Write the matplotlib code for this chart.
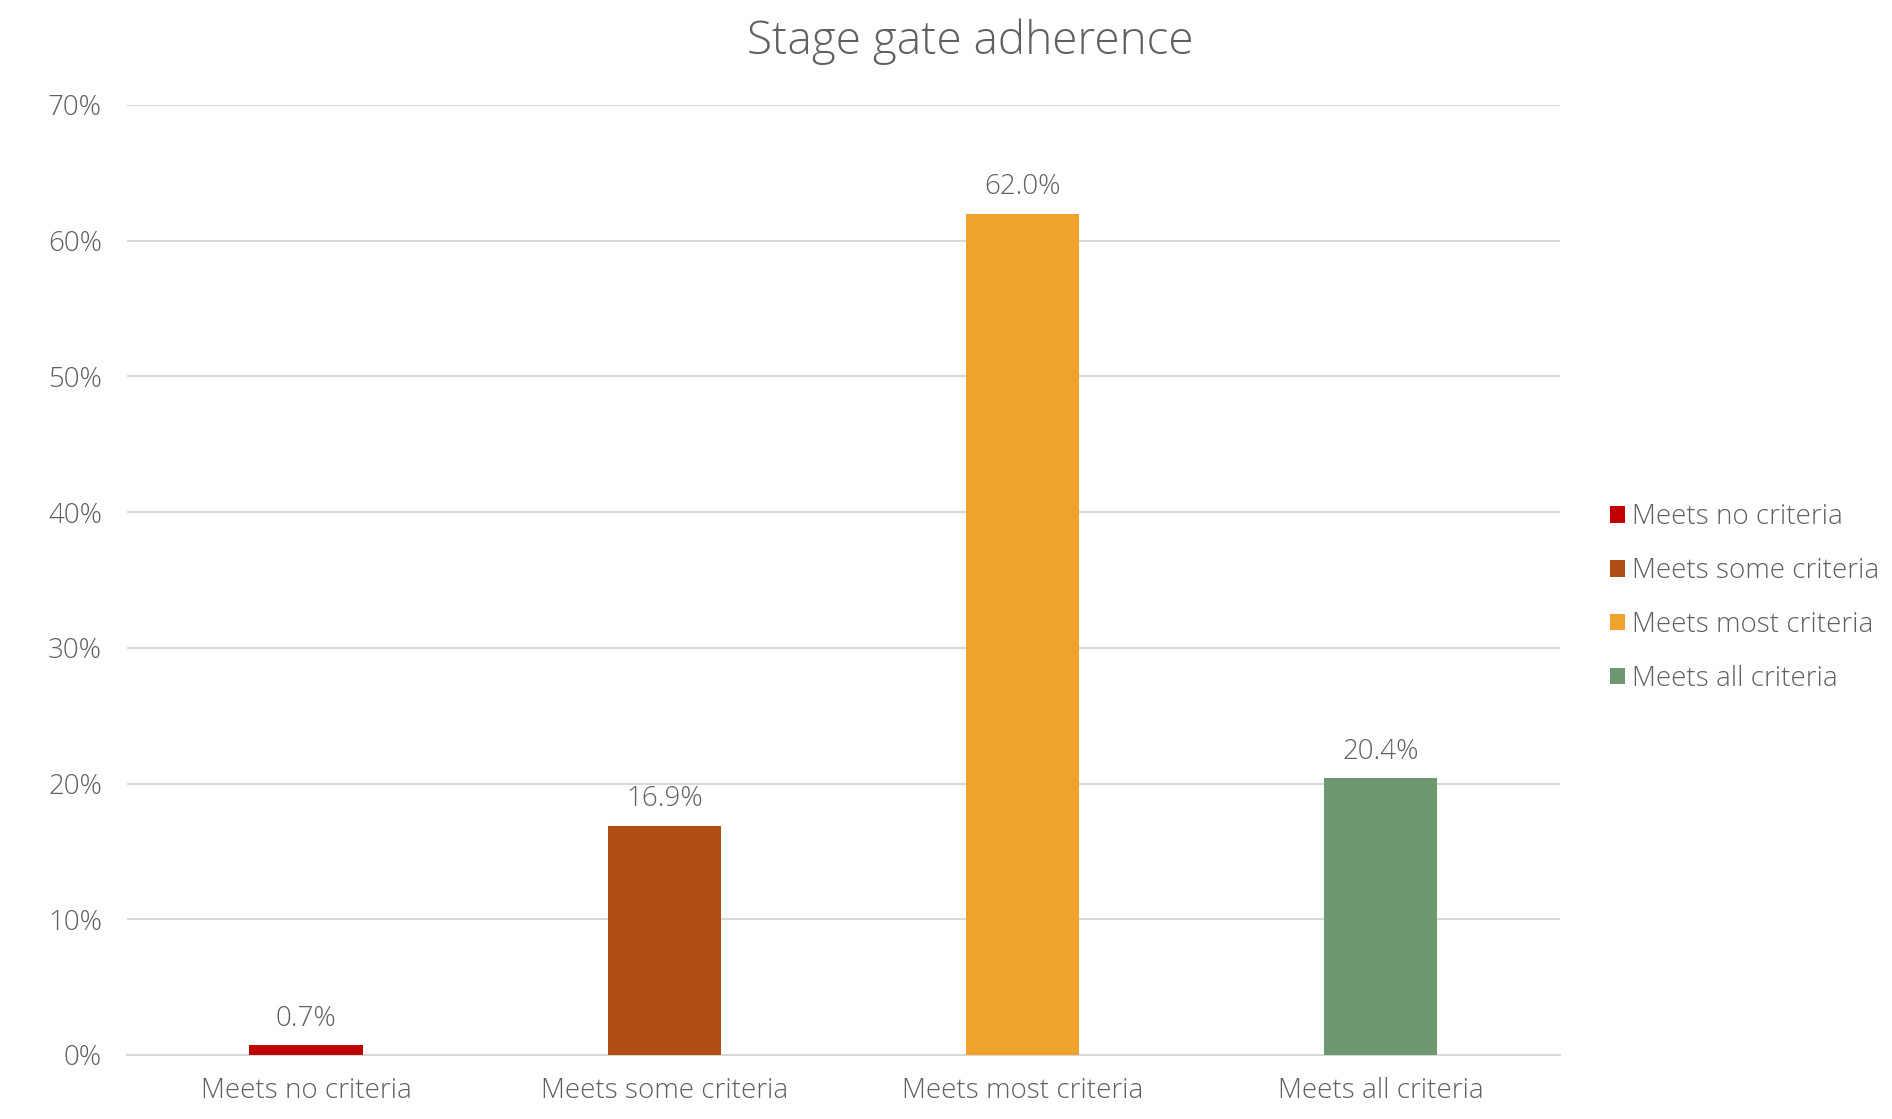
import matplotlib.pyplot as plt
from matplotlib.ticker import PercentFormatter

categories = ["Meets no criteria", "Meets some criteria", "Meets most criteria", "Meets all criteria"]
values = [0.7, 16.9, 62.0, 20.4]
colors = ["#C00000", "#B04E14", "#F0A22E", "#6E9870"]
yticks = [0, 10, 20, 30, 40, 50, 60, 70]

plt.rcParams['font.family'] = ['Open Sans', 'DejaVu Sans']
plt.rcParams['font.weight'] = 'light'
text_col = "#606060"

fig = plt.figure(figsize=(18.92, 11.19), dpi=100)
ax = fig.add_axes([0.0671, 0.0572, 0.8245 - 0.0671, 0.9062 - 0.0572])

x = range(len(categories))
bars = ax.bar(x, values, width=0.316, color=colors, label=categories, zorder=3)

for b, v in zip(bars, values):
    ax.text(b.get_x() + b.get_width() / 2, v + 0.9, f"{v:.1f}%", ha="center", va="bottom",
            fontsize=20, color=text_col)

ax.set_xlim(-0.5, 3.5)
ax.set_ylim(0, 70)
ax.set_yticks(yticks)
ax.yaxis.set_major_formatter(PercentFormatter(decimals=0))
ax.set_xticks(list(x))
ax.set_xticklabels(categories)
ax.tick_params(axis="both", length=0, labelsize=20, labelcolor=text_col)
ax.tick_params(axis="y", pad=18)
ax.tick_params(axis="x", pad=16)
ax.grid(axis="y", color="#d9d9d9", linewidth=1.5, zorder=0)
for s in ["top", "right", "left"]:
    ax.spines[s].set_visible(False)
ax.spines["bottom"].set_color("#d9d9d9")
ax.spines["bottom"].set_linewidth(1.5)

fig.text(0.5127, 0.963, "Stage gate adherence", ha="center", va="center", fontsize=33, color=text_col)

leg = fig.legend(handles=bars, labels=categories, loc="center left", bbox_to_anchor=(0.845, 0.4656),
                 frameon=False, fontsize=20, handlelength=0.55, handleheight=0.55, handletextpad=0.25,
                 labelspacing=0.93, borderaxespad=0)
for t in leg.get_texts():
    t.set_color(text_col)

fig.savefig("out.png", dpi=100)
